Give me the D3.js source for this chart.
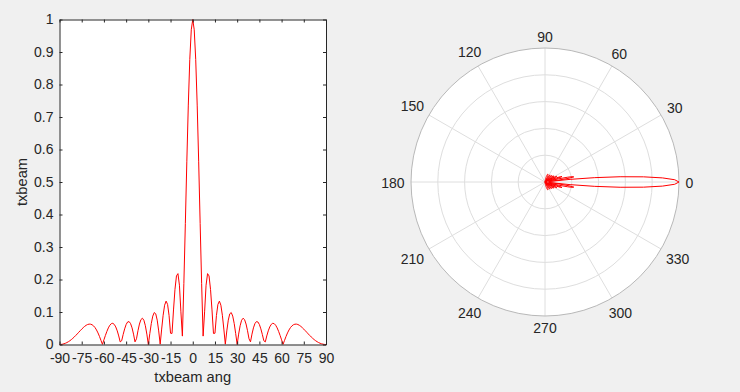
<!DOCTYPE html>
<html>
<head>
<meta charset="utf-8">
<script src="https://cdn.jsdelivr.net/npm/d3@7"></script>
<style>
  html, body { margin: 0; padding: 0; background: #f0f0f0; }
  svg { display: block; }
  text { font-family: "Liberation Sans", Arial, Helvetica, sans-serif; fill: #262626; }
</style>
</head>
<body>
<svg id="chart" width="740" height="392"></svg>
<script>
// ---- data ----
const ang = d3.range(-90, 91, 1); // txbeam ang, degrees, 1-degree samples
const txbeam = [
  0.0000,0.0002,0.0010,0.0022,0.0038,0.0060,0.0086,0.0116,0.0151,0.0190,
  0.0233,0.0279,0.0326,0.0376,0.0425,0.0473,0.0518,0.0558,0.0591,0.0615,
  0.0627,0.0625,0.0608,0.0573,0.0520,0.0447,0.0356,0.0248,0.0126,0.0006,
  0.0143,0.0278,0.0403,0.0511,0.0593,0.0642,0.0652,0.0618,0.0540,0.0420,
  0.0263,0.0080,0.0116,0.0309,0.0481,0.0615,0.0693,0.0705,0.0644,0.0512,
  0.0319,0.0081,0.0176,0.0424,0.0630,0.0766,0.0809,0.0746,0.0577,0.0319,
  0.0000,0.0337,0.0645,0.0874,0.0983,0.0944,0.0750,0.0418,0.0011,0.0475,
  0.0900,0.1209,0.1335,0.1233,0.0895,0.0347,0.0340,0.1063,0.1697,0.2110,
  0.2181,0.1825,0.1005,0.0258,0.1882,0.3728,0.5621,0.7366,0.8773,0.9683,
  1.0000,
  0.9683,0.8773,0.7366,0.5621,0.3728,0.1882,0.0258,0.1005,0.1825,0.2181,
  0.2110,0.1697,0.1063,0.0340,0.0347,0.0895,0.1233,0.1335,0.1209,0.0900,
  0.0475,0.0011,0.0418,0.0750,0.0944,0.0983,0.0874,0.0645,0.0337,0.0000,
  0.0319,0.0577,0.0746,0.0809,0.0766,0.0630,0.0424,0.0176,0.0081,0.0319,
  0.0512,0.0644,0.0705,0.0693,0.0615,0.0481,0.0309,0.0116,0.0080,0.0263,
  0.0420,0.0540,0.0618,0.0652,0.0642,0.0593,0.0511,0.0403,0.0278,0.0143,
  0.0006,0.0126,0.0248,0.0356,0.0447,0.0520,0.0573,0.0608,0.0625,0.0627,
  0.0615,0.0591,0.0558,0.0518,0.0473,0.0425,0.0376,0.0326,0.0279,0.0233,
  0.0190,0.0151,0.0116,0.0086,0.0060,0.0038,0.0022,0.0010,0.0002,0.0000
];
const xTicks = [-90,-75,-60,-45,-30,-15,0,15,30,45,60,75,90];
const yTicks = [0,0.1,0.2,0.3,0.4,0.5,0.6,0.7,0.8,0.9,1];
const thetaTicks = [0,30,60,90,120,150,180,210,240,270,300,330];
const rTicks = [0.2,0.4,0.6,0.8,1.0];
const xLabel = "txbeam ang";
const yLabel = "txbeam";

// ---- layout ----
const svg = d3.select("#chart");
const axColor = "#262626";
const tickFont = 14;
const L = {x0: 59.5, x1: 326, y0: 19.5, y1: 344.5};

// ---- left Cartesian plot ----
const x = d3.scaleLinear().domain([-90, 90]).range([L.x0, L.x1]);
const y = d3.scaleLinear().domain([0, 1]).range([L.y1, L.y0]);

svg.append("rect").attr("x", L.x0).attr("y", L.y0)
  .attr("width", L.x1 - L.x0).attr("height", L.y1 - L.y0).attr("fill", "#fff");

const line = d3.line().x((d, i) => x(ang[i])).y(d => y(d));
svg.append("path").datum(txbeam).attr("d", line)
  .attr("fill", "none").attr("stroke", "#ff0000").attr("stroke-width", 1);

function styleAxis(g) {
  g.selectAll("path.domain").attr("stroke", axColor).attr("stroke-width", 1);
  g.selectAll(".tick line").attr("stroke", axColor).attr("stroke-width", 1);
  g.selectAll(".tick text").attr("fill", axColor)
    .style("font-size", tickFont + "px")
    .style("font-family", '"Liberation Sans", Arial, sans-serif');
}

const gxb = svg.append("g").attr("transform", `translate(0,${L.y1})`)
  .call(d3.axisBottom(x).tickValues(xTicks).tickFormat(d3.format("d"))
    .tickSizeInner(-3).tickSizeOuter(0).tickPadding(9));
styleAxis(gxb);
gxb.selectAll(".tick text").text(d => String(d));

const gxt = svg.append("g").attr("transform", `translate(0,${L.y0})`)
  .call(d3.axisTop(x).tickValues(xTicks).tickFormat("")
    .tickSizeInner(-3).tickSizeOuter(0));
styleAxis(gxt);

const gyl = svg.append("g").attr("transform", `translate(${L.x0},0)`)
  .call(d3.axisLeft(y).tickValues(yTicks).tickFormat(d => d3.format("~g")(d))
    .tickSizeInner(-3).tickSizeOuter(0).tickPadding(6));
styleAxis(gyl);

const gyr = svg.append("g").attr("transform", `translate(${L.x1},0)`)
  .call(d3.axisRight(y).tickValues(yTicks).tickFormat("")
    .tickSizeInner(-3).tickSizeOuter(0));
styleAxis(gyr);

svg.append("text").attr("x", (L.x0 + L.x1) / 2).attr("y", 382)
  .attr("text-anchor", "middle").style("font-size", "14.7px").text(xLabel);
svg.append("text")
  .attr("transform", `translate(26.5,${(L.y0 + L.y1) / 2}) rotate(-90)`)
  .attr("text-anchor", "middle").style("font-size", "14.7px").text(yLabel);

// ---- right polar plot ----
const P = {cx: 545, cy: 182, R: 134};
const r = d3.scaleLinear().domain([0, 1]).range([0, P.R]);
const pg = svg.append("g").attr("transform", `translate(${P.cx},${P.cy})`);

pg.append("circle").attr("r", P.R).attr("fill", "#fff");

// rings
pg.selectAll("circle.ring").data(rTicks.slice(0, -1)).join("circle")
  .attr("class", "ring").attr("r", d => r(d))
  .attr("fill", "none").attr("stroke", "#dedede").attr("stroke-width", 1);
// spokes
pg.selectAll("line.spoke").data(thetaTicks).join("line")
  .attr("class", "spoke")
  .attr("x1", 0).attr("y1", 0)
  .attr("x2", d => r(1) * Math.cos(d * Math.PI / 180))
  .attr("y2", d => -r(1) * Math.sin(d * Math.PI / 180))
  .attr("stroke", "#dedede").attr("stroke-width", 1);
// outer circle
pg.append("circle").attr("r", r(1)).attr("fill", "none")
  .attr("stroke", "#b8b8b8").attr("stroke-width", 1);

// polar data line
const pline = d3.lineRadial()
  .angle((d, i) => Math.PI / 2 - ang[i] * Math.PI / 180)
  .radius(d => r(d));
pg.append("path").datum(txbeam).attr("d", pline)
  .attr("fill", "none").attr("stroke", "#ff0000").attr("stroke-width", 1);

// theta labels
const gap = 6.5, capH = 10;
thetaTicks.forEach(t => {
  const a = t * Math.PI / 180, c = Math.cos(a), s = Math.sin(a);
  const txt = pg.append("text").style("font-size", tickFont + "px")
    .attr("text-anchor", "middle").attr("dominant-baseline", "central").text(String(t));
  const w = txt.node().getComputedTextLength();
  const ext = Math.abs(c) * w / 2 + Math.abs(s) * capH / 2;
  const d = P.R + gap + ext;
  txt.attr("x", d * c).attr("y", -d * s + 0.5);
});
</script>
</body>
</html>
